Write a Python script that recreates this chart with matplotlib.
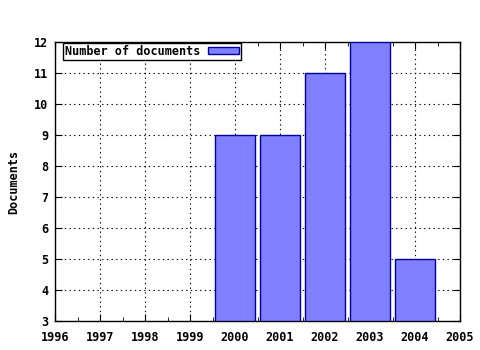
import matplotlib
matplotlib.use("Agg")
import matplotlib.pyplot as plt
from matplotlib.ticker import MultipleLocator

years = [2000, 2001, 2002, 2003, 2004]
documents = [9, 9, 11, 12, 5]
xticks = list(range(1996, 2006))
yticks = list(range(3, 13))

plt.rcParams['font.family'] = ['DejaVu Sans Mono']
plt.rcParams['font.weight'] = 'bold'

fig = plt.figure(figsize=(4.8, 3.5), dpi=100)
ax = fig.add_axes([55/480, 1-321/350, (460-55)/480, (321-42)/350])

ax.bar(years, [d - 3 for d in documents], bottom=3, width=0.9, color='#8080ff',
       edgecolor='#0000a0', linewidth=1, label='Number of documents', zorder=3)

ax.set_xlim(1996, 2005)
ax.set_ylim(3, 12)
ax.set_xticks(xticks)
ax.set_yticks(yticks)
ax.xaxis.set_minor_locator(MultipleLocator(0.5))
ax.tick_params(which='both', direction='in', top=True, right=True, labelsize=8.5, color='black')
ax.tick_params(axis='x', which='major', pad=7)
ax.tick_params(axis='y', which='major', pad=5)
ax.tick_params(which='major', length=5)
ax.tick_params(which='minor', length=3)
ax.grid(True, which='major', linestyle=(0, (1.2, 3)), color='black', linewidth=0.8, zorder=0)
for s in ax.spines.values():
    s.set_linewidth(1)
ax.set_ylabel('Documents', fontsize=8.5, fontweight='bold', labelpad=10)

leg = ax.legend(loc='upper left', bbox_to_anchor=(8/405, 1 - 1/279), borderaxespad=0,
                markerfirst=False, fancybox=False, fontsize=8.5,
                handlelength=2.6, handleheight=0.6, borderpad=0.15,
                handletextpad=0.7, framealpha=1)
leg.get_frame().set_edgecolor('black')
leg.get_frame().set_linewidth(1)

fig.savefig('out.png', dpi=100)
